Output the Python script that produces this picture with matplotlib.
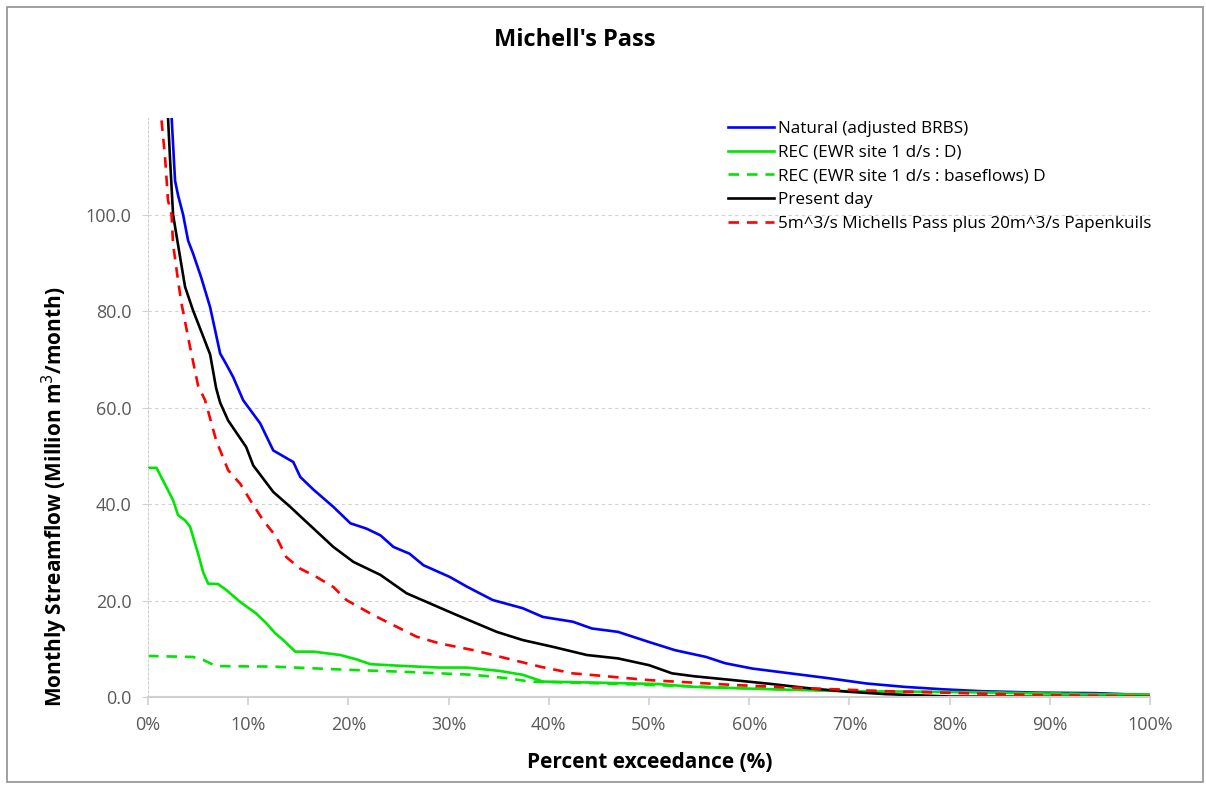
import numpy as np
import matplotlib
matplotlib.use('Agg')
import matplotlib.pyplot as plt
from matplotlib.ticker import PercentFormatter, FormatStrFormatter
from matplotlib.patches import Rectangle

plt.rcParams['font.family'] = ['Open Sans', 'DejaVu Sans']

# exceedance (%) and flow (million m3/month)
nat_x = [2.36, 2.7, 3.0, 3.5, 4.0, 4.5, 5.3, 6.2, 7.2, 7.8, 8.5, 9.5, 11.2, 12.5, 14.5, 15.2,
         16.5, 18.5, 20.2, 21.8, 23.2, 24.5, 26.1, 27.5, 30.1, 31.8, 34.4, 37.4, 39.4, 42.4,
         44.3, 46.9, 50.0, 52.6, 55.7, 57.6, 60.3, 64.1, 67.9, 71.7, 75.5, 79.3, 83.2, 88.9,
         94.6, 100.0]
nat_y = [120.0, 107.0, 104.0, 100.0, 94.6, 91.9, 87.0, 80.8, 71.2, 69.0, 66.3, 61.5, 56.7,
         51.1, 48.7, 45.6, 43.0, 39.4, 36.0, 34.9, 33.5, 31.1, 29.7, 27.3, 24.9, 22.9, 20.1,
         18.4, 16.6, 15.6, 14.2, 13.5, 11.4, 9.7, 8.3, 7.0, 5.9, 4.9, 3.9, 2.8, 2.1, 1.6, 1.2,
         0.9, 0.8, 0.4]

rec_x = [0.0, 0.85, 2.5, 3.0, 3.7, 4.2, 5.0, 5.5, 6.0, 7.0, 7.8, 9.2, 10.8, 11.8, 12.7, 13.5,
         14.7, 16.5, 19.2, 20.8, 22.2, 25.8, 29.1, 31.8, 35.1, 37.4, 39.4, 44.1, 50.8, 54.5,
         62.2, 69.8, 77.4, 85.0, 92.7, 100.0]
rec_y = [47.5, 47.5, 40.8, 37.7, 36.6, 35.3, 29.7, 25.9, 23.5, 23.4, 22.2, 19.7, 17.3, 15.3,
         13.2, 11.8, 9.4, 9.4, 8.7, 7.8, 6.8, 6.4, 6.1, 6.1, 5.4, 4.6, 3.2, 3.0, 2.7, 2.1, 1.6,
         1.2, 1.1, 0.9, 0.6, 0.5]

base_x = [0.0, 4.5, 5.5, 6.8, 12.5, 19.2, 25.8, 32.5, 35.8, 38.1, 44.0, 50.0, 60.0, 70.0,
          80.0, 90.0, 100.0]
base_y = [8.5, 8.3, 7.7, 6.4, 6.3, 5.7, 5.2, 4.6, 3.9, 3.2, 2.9, 2.5, 1.8, 1.3, 1.0, 0.7, 0.4]

pd_x = [2.0, 2.2, 2.5, 3.2, 3.7, 4.5, 5.4, 6.2, 6.8, 7.2, 8.0, 9.8, 10.5, 12.5, 14.2, 15.8,
        18.5, 20.5, 23.2, 25.8, 27.8, 30.8, 34.8, 37.4, 40.4, 43.8, 46.9, 50.0, 52.3, 54.5,
        58.4, 62.2, 66.0, 69.8, 73.6, 77.4, 80.0, 90.0, 100.0]
pd_y = [120.0, 111.5, 100.0, 91.2, 85.0, 80.1, 75.3, 71.0, 64.0, 61.0, 57.3, 51.8, 48.0, 42.5,
        39.4, 36.3, 31.1, 28.0, 25.3, 21.5, 19.7, 17.0, 13.5, 11.8, 10.4, 8.7, 8.0, 6.6, 4.9,
        4.3, 3.5, 2.7, 1.8, 1.1, 0.6, 0.3, 0.1, 0.05, 0.0]

sc_x = [1.35, 1.7, 2.0, 2.35, 2.5, 3.0, 3.35, 4.2, 5.0, 5.7, 6.8, 8.0, 9.2, 10.2, 11.5, 12.8,
        13.8, 15.2, 16.8, 18.5, 19.8, 22.2, 23.8, 26.8, 29.1, 32.5, 35.8, 39.1, 42.4, 44.1,
        50.0, 58.4, 66.0, 73.6, 81.2, 88.9, 100.0]
sc_y = [119.5, 111.9, 102.9, 100.0, 93.9, 86.3, 81.5, 72.5, 64.5, 61.5, 53.2, 47.0, 44.2, 40.8,
        36.6, 33.2, 29.0, 26.6, 24.9, 22.8, 20.1, 17.3, 15.6, 12.5, 11.1, 9.7, 8.0, 6.3, 4.9,
        4.6, 3.5, 2.5, 1.8, 1.2, 0.8, 0.4, 0.1]

labels = ['Natural (adjusted BRBS)', 'REC (EWR site 1 d/s : D)',
          'REC (EWR site 1 d/s : baseflows) D', 'Present day',
          '5m^3/s Michells Pass plus 20m^3/s Papenkuils']

W, H = 1206, 785
fig = plt.figure(figsize=(W / 100, H / 100), dpi=100)
ax = fig.add_axes([148 / W, 1 - 697 / H, (1150 - 148) / W, (697 - 118) / H])

green = '#00e600'
ax.plot(nat_x, nat_y, color='#0000ff', lw=1.9, label=labels[0])
ax.plot(rec_x, rec_y, color=green, lw=1.9, label=labels[1])
ax.plot(base_x, base_y, color=green, lw=1.9, dashes=(4, 3), label=labels[2])
ax.plot(pd_x, pd_y, color='black', lw=1.9, label=labels[3])
ax.plot(sc_x, sc_y, color='#ff0000', lw=1.9, dashes=(4, 3), label=labels[4])

ax.set_xlim(0, 100)
ax.set_ylim(0, 120)
ax.set_xticks(np.arange(0, 101, 10))
ax.set_yticks(np.arange(0, 101, 20))
ax.xaxis.set_major_formatter(PercentFormatter(xmax=100, decimals=0))
ax.yaxis.set_major_formatter(FormatStrFormatter('%.1f'))
ax.grid(axis='y', color='#d0d0d0', ls=(0, (3, 3)), lw=0.8)
ax.tick_params(axis='x', colors='#595959', labelsize=13, length=6, width=1.2, pad=8)
ax.tick_params(axis='x', color='#d0d0d0')
ax.tick_params(axis='y', colors='#595959', labelsize=13, length=4, pad=8)
ax.tick_params(axis='y', color='#d0d0d0')
for s in ['top', 'right']:
    ax.spines[s].set_visible(False)
ax.spines['bottom'].set_color('#d0d0d0')
ax.spines['bottom'].set_linewidth(1.5)
ax.spines['left'].set_color('#d0d0d0')
ax.spines['left'].set_linestyle((0, (2, 2)))
ax.spines['left'].set_linewidth(0.8)

ax.set_xlabel('Percent exceedance (%)', fontsize=15, fontweight='bold')
ax.xaxis.set_label_coords((650 - 148) / (1150 - 148), -(752 - 697) / (697 - 118))
ax.set_ylabel('Monthly Streamflow (Million m$^3$/month)', fontsize=15, fontweight='bold')
ax.yaxis.set_label_coords(-(148 - 70) / (1150 - 148), (697 - 497) / (697 - 118))
fig.text(575 / W, 1 - 40 / H, "Michell's Pass", ha='center', va='center',
         fontsize=17, fontweight='bold')

ax.legend(loc='upper left', bbox_to_anchor=(728 / W, 1 - 121 / H),
          bbox_transform=fig.transFigure, frameon=False, fontsize=12.3,
          handlelength=2.7, handletextpad=0.2, labelspacing=0.45,
          borderpad=0, borderaxespad=0)

fig.patches.append(Rectangle((7 / W, 3 / H), (W - 10) / W, (H - 10) / H,
                             transform=fig.transFigure, fill=False,
                             edgecolor='#909090', lw=1.2))

fig.savefig('out.png', dpi=100)
